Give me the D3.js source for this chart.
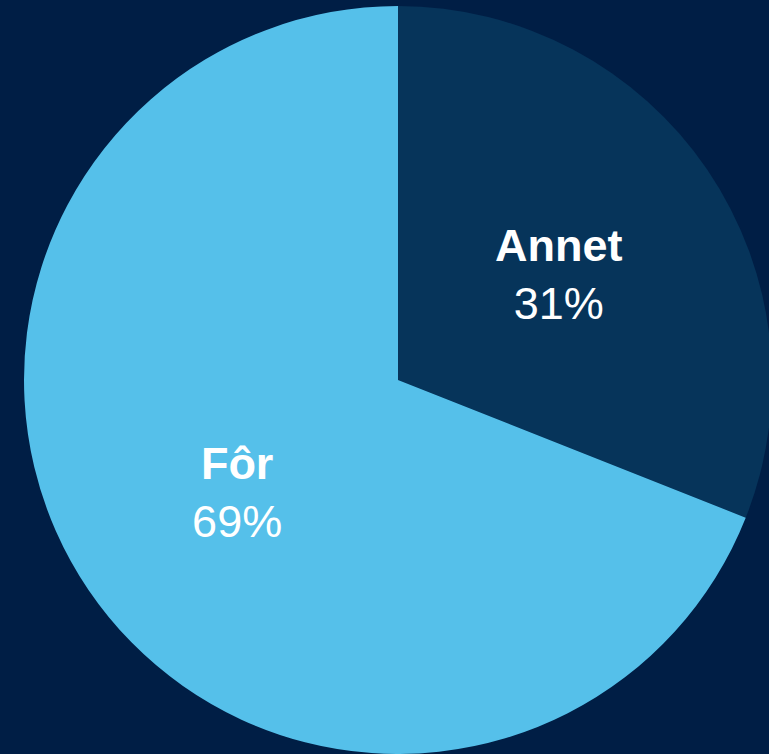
<!DOCTYPE html>
<html>
<head>
<meta charset="utf-8">
<script src="https://cdn.jsdelivr.net/npm/d3@7"></script>
<style>
  html, body { margin: 0; padding: 0; background: #001E45; }
</style>
</head>
<body>
<div id="pie"></div>
<script>
var width = 769, height = 754

// data
var categories = ["Annet", "Fôr"]
var values = [31, 69]
var colors = ["#06345A", "#55C0EA"]

var cx = 398, cy = 380, radius = 374

var svg = d3.select("#pie")
  .append("svg")
    .attr("width", width)
    .attr("height", height)
    .style("background-color", "#001E45")
  .append("g")
    .attr("transform", "translate(" + cx + "," + cy + ")")

var data = categories.map(function(c, i) { return {name: c, value: values[i]} })

var pie = d3.pie().sort(null).value(function(d) { return d.value })
var arc = d3.arc().innerRadius(0).outerRadius(radius)
var labelArc = d3.arc().innerRadius(radius * 0.52).outerRadius(radius * 0.52)

var slices = pie(data)

svg.selectAll("path")
  .data(slices)
  .enter()
  .append("path")
    .attr("d", arc)
    .style("fill", function(d, i) { return colors[i] })

// labels
var labels = svg.selectAll("g.lbl")
  .data(slices)
  .enter()
  .append("g")
    .attr("class", "lbl")
    .attr("transform", function(d) { return "translate(" + labelArc.centroid(d) + ")" })

labels.append("text")
  .attr("text-anchor", "middle")
  .attr("y", -10)
  .style("font-family", "Liberation Sans, Arial, sans-serif")
  .style("font-weight", "bold")
  .style("font-size", "45px")
  .style("fill", "white")
  .text(function(d) { return d.data.name })

labels.append("text")
  .attr("text-anchor", "middle")
  .attr("y", 48)
  .style("font-family", "Liberation Sans, Arial, sans-serif")
  .style("font-size", "45px")
  .style("fill", "white")
  .text(function(d) { return d.data.value + "%" })
</script>
</body>
</html>
